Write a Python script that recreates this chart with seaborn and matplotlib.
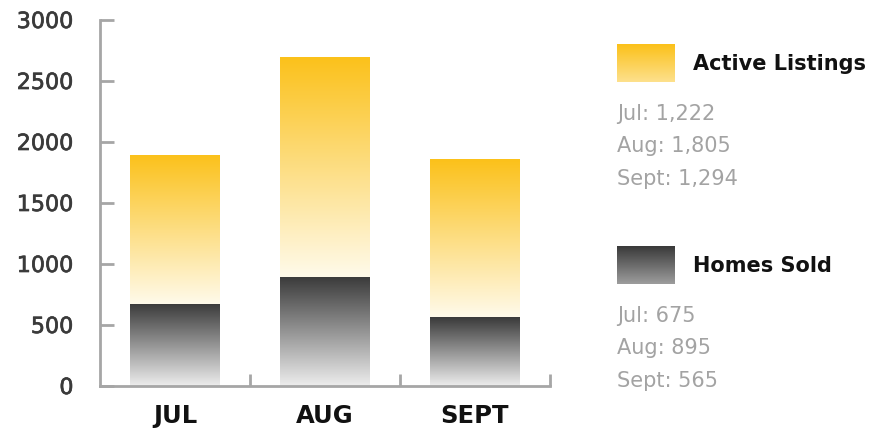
import numpy as np
import pandas as pd
import seaborn as sns
from matplotlib import pyplot as plt
from matplotlib import patheffects as pe
from matplotlib.colors import LinearSegmentedColormap

months = ['JUL', 'AUG', 'SEPT']
short_months = ['Jul', 'Aug', 'Sept']
active_listings = [1222, 1805, 1294]
homes_sold = [675, 895, 565]

df = pd.DataFrame({'month': months, 'active': active_listings, 'sold': homes_sold})

yellow = LinearSegmentedColormap.from_list('yel', ['#fffaea', '#fbc11a'])
gray = LinearSegmentedColormap.from_list('gry', ['#ededed', '#3a3a3a'])
W, H = 871, 428

sns.set_style('white')
plt.rcParams['font.family'] = ['DejaVu Sans']
fig = plt.figure(figsize=(W / 100, H / 100), dpi=100)
ax = fig.add_axes([100 / W, 42 / H, 450 / W, 366 / H])

sns.barplot(data=df, x='month', y='sold', color='#555555', width=0.6, ax=ax)
sns.barplot(data=df, x='month', y='active', bottom=df['sold'], color='#fbc11a', width=0.6, ax=ax)

# gradient fill inside each bar
grad = np.linspace(0, 1, 256).reshape(-1, 1)
n = len(months)
for i, patch in enumerate(ax.patches):
    cmap = gray if i < n else yellow
    x0, y0 = patch.get_x(), patch.get_y()
    w, h = patch.get_width(), patch.get_height()
    im = ax.imshow(grad, cmap=cmap, aspect='auto', origin='lower',
                   extent=[x0, x0 + w, y0, y0 + h], zorder=2)
    im.set_clip_path(patch)
    patch.set_facecolor('none')
    patch.set_edgecolor('none')

ax.set_xlim(-0.5, 2.5)
ax.set_ylim(0, 3000)
ax.set_yticks(range(0, 3001, 500))
ax.set_xlabel('')
ax.set_ylabel('')
for s in ['top', 'right']:
    ax.spines[s].set_visible(False)
for s in ['left', 'bottom']:
    ax.spines[s].set_color('#a6a6a6')
    ax.spines[s].set_linewidth(2)
    ax.spines[s].set_zorder(5)
ax.tick_params(axis='y', direction='in', length=10, width=2, color='#a6a6a6',
               labelsize=16, labelcolor='#3a3a3a', pad=19, left=True)
ax.tick_params(axis='x', length=0, labelsize=17.5, labelcolor='#111111', pad=13)
thick = [pe.withStroke(linewidth=0.5, foreground='#3a3a3a')]
for t in ax.get_yticklabels():
    t.set_path_effects(thick)
for t in ax.get_xticklabels():
    t.set_fontweight('bold')
ax.set_xticks([0.5, 1.5, 2.5], minor=True)
ax.tick_params(axis='x', which='minor', direction='in', length=9, width=2,
               color='#a6a6a6', bottom=True)

# legend blocks on the right
def legend_block(top_px, cmap, title, values):
    sw = fig.add_axes([617 / W, (H - top_px - 38) / H, 58 / W, 38 / H])
    sw.imshow(np.linspace(0.45, 1, 64).reshape(-1, 1), cmap=cmap, aspect='auto',
              origin='lower', vmin=0, vmax=1)
    sw.axis('off')
    fig.text(693 / W, (H - top_px - 20) / H, title, fontsize=15, fontweight='bold',
             color='#111111', va='center')
    for k, (m, v) in enumerate(zip(short_months, values)):
        fig.text(617 / W, (H - top_px - 70 - 32.5 * k) / H, f'{m}: {v:,}',
                 fontsize=15, color='#a3a3a3', va='center')

legend_block(44, yellow, 'Active Listings', active_listings)
legend_block(246, gray, 'Homes Sold', homes_sold)

fig.savefig('out.png', dpi=100)
